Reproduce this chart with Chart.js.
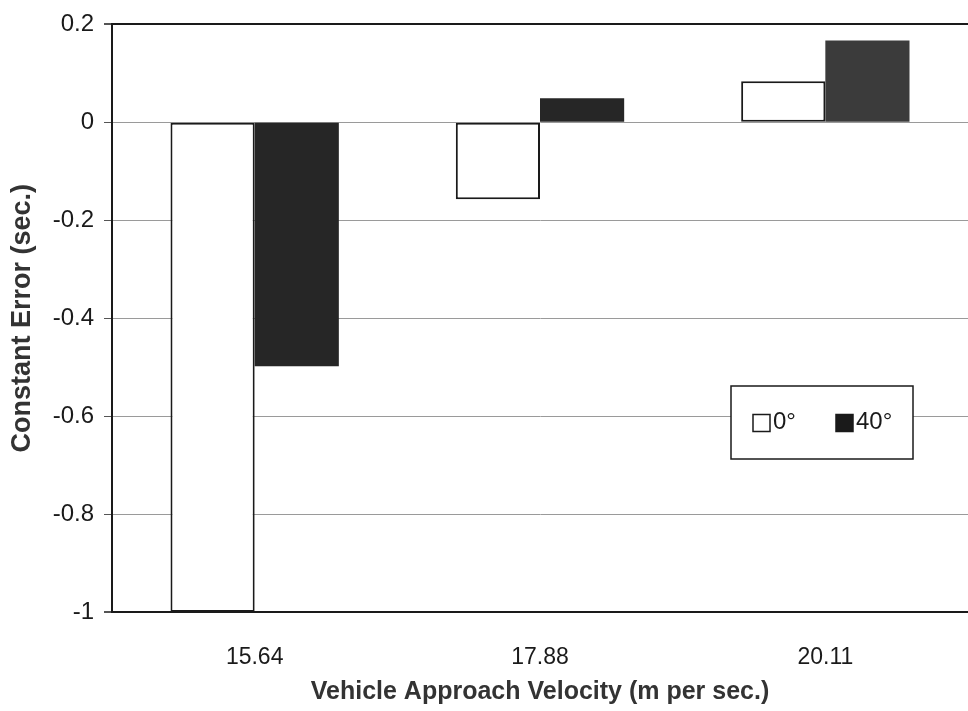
<!DOCTYPE html>
<html>
<head>
<meta charset="utf-8">
<script src="https://cdn.jsdelivr.net/npm/chart.js@4.4.1/dist/chart.umd.min.js"></script>
<style>
  html, body { margin: 0; padding: 0; background: #fff; }
  #wrap { width: 968px; height: 711px; position: relative; }
</style>
</head>
<body>
<div id="wrap"><canvas id="errChart"></canvas></div>
<script>
// velocities (m per sec.)
const velocities = ['15.64', '17.88', '20.11'];
// constant error (sec.) per viewing angle
const angle0 = [-1.0, -0.157, 0.084];
const angle40 = [-0.498, 0.049, 0.167];
const yTicks = [0.2, 0, -0.2, -0.4, -0.6, -0.8, -1];

Chart.defaults.font.family = "'Liberation Sans', Arial, sans-serif";
Chart.defaults.color = '#1a1a1a';

// legend drawn inside the plot area, like the original
const boxLegend = {
    id: 'boxLegend',
    afterDraw(chart) {
        const ctx = chart.ctx;
        const x = 731, y = 386, w = 182, h = 73;
        ctx.save();
        ctx.fillStyle = '#fff';
        ctx.fillRect(x, y, w, h);
        ctx.strokeStyle = '#1a1a1a';
        ctx.lineWidth = 1.5;
        ctx.strokeRect(x, y, w, h);
        ctx.font = "24px 'Liberation Sans', Arial, sans-serif";
        ctx.textBaseline = 'middle';
        const cy = y + h / 2;
        chart.data.datasets.forEach((ds, i) => {
            const sx = x + 22 + i * 83;
            ctx.fillStyle = i === 0 ? '#fff' : '#1a1a1a';
            ctx.fillRect(sx, cy - 8, 17, 17);
            ctx.strokeStyle = '#1a1a1a';
            ctx.lineWidth = 1.5;
            ctx.strokeRect(sx, cy - 8, 17, 17);
            ctx.fillStyle = '#1a1a1a';
            ctx.fillText(ds.label, sx + 20, cy);
        });
        ctx.restore();
    }
};

const ctx = document.getElementById('errChart').getContext('2d');
new Chart(ctx, {
    type: 'bar',
    data: {
        labels: velocities,
        datasets: [{
            label: '0°',
            data: angle0,
            backgroundColor: '#fff',
            borderColor: '#1a1a1a',
            borderWidth: 2,
            borderSkipped: false,
            categoryPercentage: 0.59,
            barPercentage: 1.0
        }, {
            label: '40°',
            data: angle40,
            backgroundColor: ['#262626', '#262626', '#3b3b3b'],
            borderWidth: 0,
            categoryPercentage: 0.59,
            barPercentage: 1.0
        }]
    },
    options: {
        responsive: true,
        maintainAspectRatio: false,
        animation: false,
        layout: { padding: { top: 21, right: 0, bottom: 0, left: 0 } },
        plugins: {
            legend: { display: false },
            tooltip: { enabled: false }
        },
        scales: {
            x: {
                grid: { display: false },
                border: { display: false },
                ticks: { font: { size: 23 }, padding: 24, color: '#1a1a1a' },
                title: {
                    display: true,
                    text: 'Vehicle Approach Velocity (m per sec.)',
                    font: { size: 25, weight: 'bold' },
                    color: '#333',
                    padding: { top: 10 }
                },
                afterFit: (s) => { s.height = 99; }
            },
            y: {
                min: -1,
                max: 0.2,
                afterBuildTicks: (s) => { s.ticks = yTicks.map(v => ({ value: v })); },
                ticks: {
                    font: { size: 24 },
                    padding: 10,
                    color: '#1a1a1a',
                    callback: (v) => String(Math.round(v * 10) / 10)
                },
                grid: {
                    color: (c) => (c.tick && (c.tick.value === 0.2 || c.tick.value === -1)) ? '#1a1a1a' : '#9a9a9a',
                    lineWidth: (c) => (c.tick && (c.tick.value === 0.2 || c.tick.value === -1)) ? 2 : 1,
                    tickColor: '#555',
                    tickLength: 8
                },
                border: { display: true, color: '#1a1a1a', width: 2 },
                title: {
                    display: true,
                    text: 'Constant Error (sec.)',
                    font: { size: 27, weight: 'bold' },
                    color: '#333',
                    padding: { top: 6, bottom: 2 }
                },
                afterFit: (s) => { s.width = 112; }
            }
        }
    },
    plugins: [boxLegend]
});
</script>
</body>
</html>
